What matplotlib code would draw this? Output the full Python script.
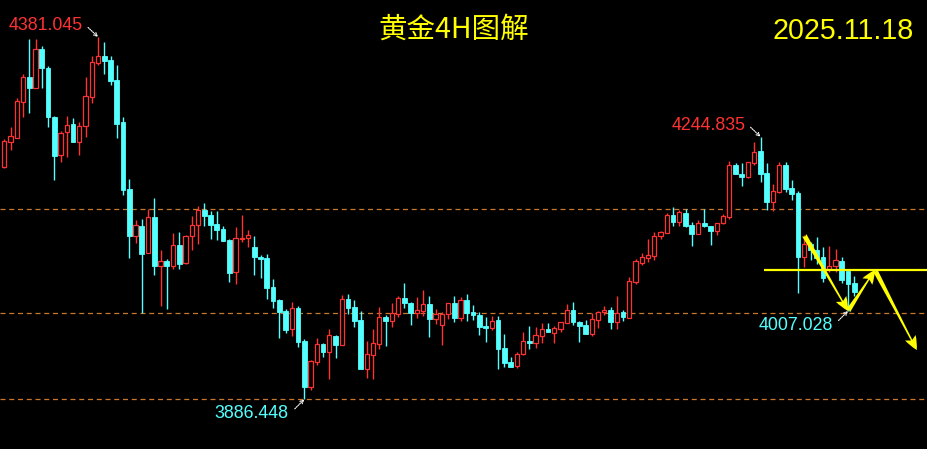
import matplotlib
matplotlib.use('Agg')
import matplotlib.pyplot as plt
from matplotlib.patches import FancyArrowPatch

# ---------------- data (gold 4H candles) ----------------
opens = [4203.5, 4238.1, 4243.5, 4292.7, 4326.4, 4311.8, 4364.6, 4338.7, 4271.8, 4220.3,
         4251.7, 4262.2, 4238.1, 4259.9, 4299.5, 4345.9, 4355.1, 4349.6, 4322.3, 4265.0,
         4173.5, 4109.8, 4123.0, 4086.6, 4135.3, 4068.8, 4075.2, 4068.8, 4097.1, 4072.1,
         4109.0, 4124.0, 4144.4, 4138.0, 4125.7, 4118.5, 4103.9, 4059.8, 4105.3, 4106.2,
         4094.3, 4080.7, 4079.3, 4039.7, 4022.0, 4007.0, 3982.8, 4011.1, 3966.0, 3903.7,
         3937.8, 3961.9, 3951.4, 3973.3, 3961.0, 4023.4, 4012.4, 3994.7, 3928.2, 3947.3,
         3962.3, 3998.8, 3993.7, 4003.3, 4024.7, 4017.9, 4004.3, 4007.4, 4016.5, 3996.5,
         3988.3, 4003.3, 4017.9, 3997.8, 4022.0, 4005.6, 4001.5, 3986.5, 3984.2, 3994.7,
         3956.5, 3937.4, 3932.3, 3947.9, 3966.0, 3963.7, 3973.3, 3982.4, 3977.4, 3982.8,
         3991.0, 4008.3, 3991.6, 3987.9, 3976.0, 3995.1, 4006.0, 4008.3, 3992.4, 4005.2,
         3997.8, 4047.0, 4072.9, 4079.7, 4082.1, 4109.8, 4113.9, 4138.0, 4128.9, 4141.2,
         4124.0, 4112.5, 4127.1, 4123.0, 4116.6, 4127.1, 4135.3, 4205.9, 4194.4, 4189.5,
         4209.0, 4225.0, 4195.4, 4156.2, 4169.4, 4206.3, 4174.9, 4168.5, 4081.1, 4098.0,
         4090.2, 4080.7, 4064.3, 4068.8, 4075.2, 4062.0, 4044.8]
highs = [4241.8, 4258.1, 4297.7, 4330.1, 4378.3, 4378.3, 4368.7, 4341.4, 4273.2, 4252.7,
         4273.2, 4270.4, 4265.0, 4326.4, 4355.1, 4381.045, 4374.2, 4355.1, 4342.8, 4271.8,
         4187.2, 4131.2, 4132.6, 4146.2, 4161.2, 4090.2, 4078.4, 4113.5, 4114.8, 4110.3,
         4136.7, 4150.3, 4154.4, 4143.5, 4143.5, 4122.6, 4105.3, 4121.6, 4138.0, 4117.5,
         4109.4, 4083.4, 4084.8, 4050.7, 4023.4, 4009.7, 4019.3, 4013.8, 3968.8, 3940.1,
         3970.1, 3963.3, 3982.4, 3974.6, 4028.8, 4030.2, 4022.0, 4007.0, 3966.0, 3982.4,
         4012.4, 4001.5, 4017.9, 4027.5, 4045.2, 4019.3, 4026.1, 4035.6, 4027.5, 4009.7,
         4005.6, 4017.9, 4027.5, 4026.1, 4030.2, 4015.2, 4005.6, 3998.8, 4000.2, 4000.2,
         3975.6, 3944.2, 3951.0, 3978.3, 3986.9, 3985.1, 3990.6, 3990.6, 3986.5, 3992.0,
         4016.5, 4019.3, 3993.7, 3994.7, 4004.3, 4007.0, 4013.8, 4012.4, 4027.5, 4008.3,
         4053.4, 4078.0, 4086.2, 4105.3, 4114.8, 4116.2, 4140.8, 4148.9, 4145.3, 4146.2,
         4128.1, 4131.2, 4145.8, 4123.0, 4127.1, 4139.0, 4211.7, 4208.6, 4208.6, 4210.4,
         4238.1, 4244.835, 4209.4, 4179.9, 4210.0, 4210.0, 4185.4, 4170.4, 4110.3, 4100.8,
         4108.0, 4094.3, 4095.3, 4091.6, 4080.3, 4062.0, 4054.8]
lows = [4202.2, 4226.7, 4243.1, 4272.2, 4277.7, 4311.4, 4311.8, 4258.6, 4186.2, 4210.8,
        4217.6, 4237.7, 4220.3, 4244.9, 4291.3, 4343.2, 4330.9, 4315.9, 4243.5, 4165.7,
        4079.7, 4100.2, 4003.8, 4086.2, 4056.5, 4014.2, 4010.1, 4064.7, 4064.7, 4071.1,
        4090.7, 4098.8, 4123.4, 4105.7, 4103.9, 4102.5, 4047.0, 4044.2, 4101.6, 4094.8,
        4056.5, 4052.4, 4023.4, 4011.5, 3970.5, 3977.4, 3973.3, 3958.3, 3886.448, 3899.6,
        3933.7, 3944.6, 3914.6, 3943.2, 3960.6, 4002.5, 3985.6, 3927.8, 3915.9, 3914.6,
        3955.5, 3959.6, 3985.6, 3999.2, 4011.5, 3988.3, 3997.8, 4000.6, 3971.9, 3989.6,
        3961.0, 3996.5, 3992.4, 3993.7, 3993.7, 3994.7, 3974.6, 3965.1, 3981.5, 3928.2,
        3931.0, 3930.5, 3929.6, 3947.3, 3955.5, 3956.9, 3963.7, 3978.3, 3963.7, 3978.7,
        3990.6, 3988.3, 3965.1, 3975.6, 3973.3, 3984.2, 4001.5, 3982.8, 3982.8, 3993.7,
        3997.4, 4044.2, 4070.2, 4074.3, 4077.0, 4105.7, 4113.5, 4123.4, 4123.4, 4122.1,
        4096.1, 4112.1, 4122.3, 4097.5, 4111.1, 4126.4, 4133.0, 4194.0, 4178.0, 4188.5,
        4206.3, 4183.5, 4144.4, 4143.9, 4168.7, 4169.4, 4158.1, 4031.1, 4067.5, 4076.2,
        4071.1, 4046.6, 4060.2, 4059.8, 4045.2, 4007.028, 4027.9]
closes = [4239.0, 4245.9, 4293.6, 4326.4, 4311.8, 4364.6, 4339.1, 4272.2, 4219.0, 4250.0,
          4260.9, 4238.1, 4259.5, 4300.5, 4346.9, 4355.1, 4348.6, 4321.3, 4262.6, 4172.6,
          4109.8, 4124.4, 4085.2, 4135.3, 4068.8, 4075.2, 4068.8, 4097.1, 4071.6, 4109.0,
          4124.0, 4144.4, 4137.1, 4124.8, 4118.0, 4102.9, 4059.3, 4106.2, 4106.2, 4110.3,
          4081.1, 4078.4, 4038.8, 4021.0, 4006.0, 3981.5, 4011.1, 3965.1, 3903.7, 3938.3,
          3961.9, 3951.0, 3973.8, 3961.0, 4023.0, 4011.5, 3993.3, 3928.2, 3948.3, 3963.3,
          3998.8, 3993.7, 4004.3, 4024.3, 4018.3, 4004.3, 4007.9, 4016.5, 3996.5, 4002.9,
          4003.3, 4017.9, 3997.8, 4022.0, 4004.7, 4001.5, 3985.6, 3984.2, 3993.3, 3955.5,
          3936.4, 3931.0, 3948.3, 3966.0, 3963.7, 3974.2, 3982.4, 3978.7, 3983.8, 3991.6,
          4008.3, 3992.4, 3986.9, 3976.0, 3995.7, 4005.6, 4008.3, 3992.4, 4004.3, 3999.2,
          4047.5, 4075.2, 4080.3, 4083.0, 4109.4, 4114.4, 4138.0, 4128.9, 4142.1, 4123.4,
          4112.5, 4127.1, 4123.0, 4116.6, 4127.1, 4136.3, 4205.9, 4194.4, 4189.9, 4210.0,
          4224.4, 4194.4, 4156.2, 4170.4, 4206.3, 4173.9, 4167.1, 4081.1, 4098.0, 4090.7,
          4079.3, 4052.0, 4068.8, 4076.2, 4049.3, 4043.8, 4033.3]

dashed_levels = [4145.8, 4003.8, 3886.5]
resistance_level = 4063.0
resistance_start = 121.6
# projected path (candle index, price)
path_points = [(128, 4110.3), (135, 4007.028), (139.3, 4063.0), (146.0, 3953.7)]

marks = [  # (candle index, price, label, colour key, pointer offset px, text anchor px)
    (15, 4381.045, '4381.045', 'red', (-10, 9.5), (83, 25)),
    (121, 4244.835, '4244.835', 'red', (-10, 9.5), (746, 125)),
    (48, 3886.448, '3886.448', 'cyan', (-9.5, -9.5), (288, 413)),
    (135, 4007.028, '4007.028', 'cyan', (-9.5, -9.5), (833, 325)),
]
title = '黄金4H图解'
date_text = '2025.11.18'

# ---------------- style ----------------
RED = '#ff3232'
CYAN = '#54ffff'
YELLOW = '#ffff00'
DASH = '#c8782d'

W, H = 928, 449
fig = plt.figure(figsize=(W / 100, H / 100), dpi=100, facecolor='black')
ax = fig.add_axes([0, 0, 1, 1])
ax.set_facecolor('black')
ax.axis('off')

x0, step = 4.3, 6.25
ax.set_xlim(-x0 / step, (W - x0) / step)
top_price, ppx = 4431.5, 1.365
ax.set_ylim(top_price - ppx * H, top_price)


def fig_px(px, py):
    return px / W, 1 - py / H


for lv in dashed_levels:
    ax.axhline(lv, color=DASH, lw=0.9, dashes=(4, 3), zorder=1)

for i, (o, h, l, c) in enumerate(zip(opens, highs, lows, closes)):
    top, bot = max(o, c), min(o, c)
    if c >= o:
        ax.vlines(i, top, h, color=RED, lw=1.0, zorder=2)
        ax.vlines(i, l, bot, color=RED, lw=1.0, zorder=2)
        ax.bar(i, top - bot, bottom=bot, width=0.7, facecolor='black',
               edgecolor=RED, linewidth=0.9, zorder=3)
    else:
        ax.vlines(i, l, h, color=CYAN, lw=1.0, zorder=2)
        ax.bar(i, top - bot, bottom=bot, width=0.76, facecolor=CYAN,
               edgecolor=CYAN, linewidth=0.6, zorder=3)

ax.hlines(resistance_level, resistance_start, ax.get_xlim()[1], color=YELLOW, lw=1.6, zorder=4)

for a, b in zip(path_points[:-1], path_points[1:]):
    arr = FancyArrowPatch(a, b, arrowstyle='fancy,head_length=1.0,head_width=0.85,tail_width=0.35',
                          mutation_scale=10, color=YELLOW, shrinkA=0, shrinkB=0, zorder=5, lw=0)
    ax.add_patch(arr)

for idx, price, txt, ck, off, anchor in marks:
    col = RED if ck == 'red' else CYAN
    ax.annotate('', xy=(idx, price), xytext=(off[0] * 0.72, off[1] * 0.72),
                textcoords='offset points',
                arrowprops=dict(arrowstyle='->', color='white', lw=0.8, linestyle=(0, (1, 1)),
                                shrinkA=0, shrinkB=0, mutation_scale=6), zorder=6)
    fx, fy = fig_px(*anchor)
    fig.text(fx, fy, txt, color=col, fontsize=12.8, family=['Liberation Sans', 'DejaVu Sans'],
             ha='right', va='center')

tx, ty = fig_px(454, 30)
fig.text(tx, ty, title, color=YELLOW, fontsize=20.5, family=['Noto Sans CJK SC', 'DejaVu Sans'],
         ha='center', va='center')
dx, dy = fig_px(914, 31)
fig.text(dx, dy, date_text, color=YELLOW, fontsize=20.6, family=['Liberation Sans', 'DejaVu Sans'],
         ha='right', va='center')

fig.savefig('out.png', dpi=100, facecolor='black')
